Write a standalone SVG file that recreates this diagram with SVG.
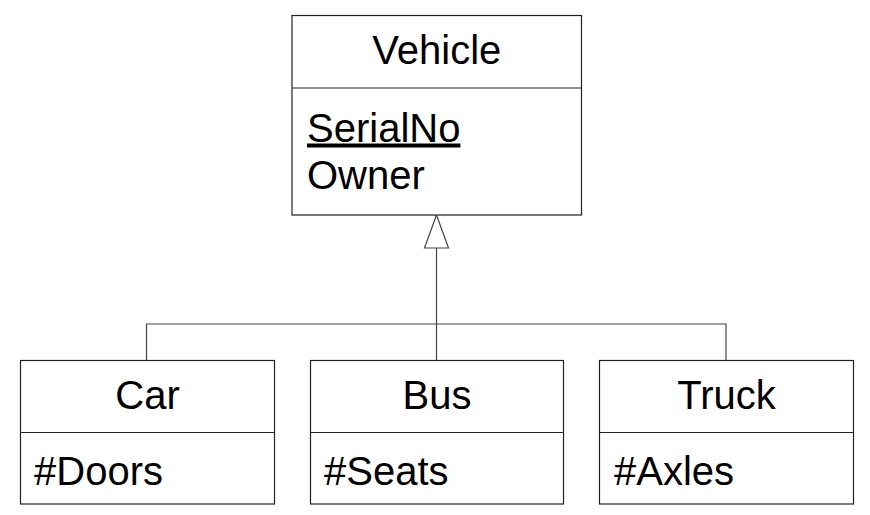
<svg xmlns="http://www.w3.org/2000/svg" width="870" height="515" viewBox="0 0 870 515">
<style>
.box{fill:#fff;stroke:#222;stroke-width:1.2}
.div{stroke:#222;stroke-width:1.2}
.t{font-family:"Liberation Sans",Arial,sans-serif;font-size:40px;fill:#000}
.c{text-anchor:middle}
.con{fill:none;stroke:#444;stroke-width:1.2}
</style>
<rect width="870" height="515" fill="#fff"/>
<g id="connectors">
<polyline class="con" points="436.5,248 436.5,324"/>
<polyline class="con" points="146.5,360.5 146.5,324 726,324 726,360.5"/>
<polyline class="con" points="436.5,324 436.5,360.5"/>
<polygon points="436.5,215 424.5,248 448.5,248" fill="#fff" stroke="#444" stroke-width="1.2"/>
</g>
<g id="vehicle">
<rect class="box" x="292" y="15.5" width="289.5" height="199.5"/>
<line class="div" x1="292" y1="88" x2="581.5" y2="88"/>
<text class="t c" x="436.8" y="63.5">Vehicle</text>
<text class="t" x="307" y="141.5" text-decoration="underline">SerialNo</text>
<text class="t" x="307" y="188.5">Owner</text>
</g>
<g id="car">
<rect class="box" x="20.5" y="360.5" width="254" height="143.5"/>
<line class="div" x1="20.5" y1="432.5" x2="274.5" y2="432.5"/>
<text class="t c" x="147.5" y="408.5">Car</text>
<text class="t" x="34" y="485">#Doors</text>
</g>
<g id="bus">
<rect class="box" x="310.5" y="360.5" width="253" height="143.5"/>
<line class="div" x1="310.5" y1="432.5" x2="563.5" y2="432.5"/>
<text class="t c" x="437" y="408.5">Bus</text>
<text class="t" x="324" y="485">#Seats</text>
</g>
<g id="truck">
<rect class="box" x="599.5" y="360.5" width="254" height="143.5"/>
<line class="div" x1="599.5" y1="432.5" x2="853.5" y2="432.5"/>
<text class="t c" x="726.5" y="408.5">Truck</text>
<text class="t" x="614" y="485">#Axles</text>
</g>
</svg>
